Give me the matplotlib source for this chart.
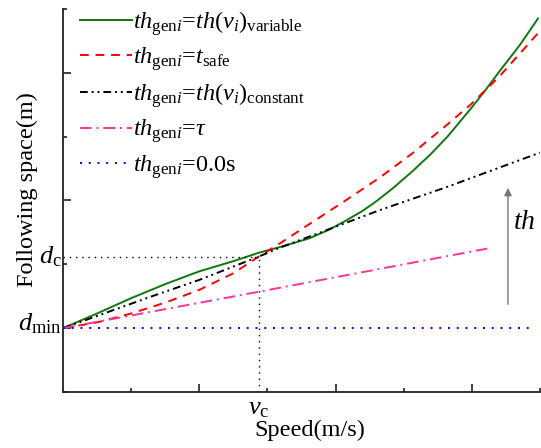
import matplotlib
matplotlib.use("Agg")
import matplotlib.pyplot as plt
import matplotlib.transforms as mtransforms

plt.rcParams['font.family'] = ['Liberation Serif', 'DejaVu Serif']
plt.rcParams['mathtext.fontset'] = 'custom'
plt.rcParams['mathtext.rm'] = 'Liberation Serif'
plt.rcParams['mathtext.it'] = 'Liberation Serif:italic'
plt.rcParams['mathtext.bf'] = 'Liberation Serif:bold'

# ---- data ----
d_min = 1.0
d_c = 2.12
v_c = 2.87

x_var = [0, 0.5, 1.0, 1.5, 2.0, 2.5, 2.87, 3.25, 3.62, 3.9, 4.16, 4.4, 4.6, 4.85, 5.13, 5.4,
         5.65, 6.0, 6.2, 6.41, 6.7, 6.97]
y_var = [1.0, 1.23, 1.47, 1.69, 1.89, 2.05, 2.18, 2.29, 2.41, 2.54, 2.69, 2.84, 2.99, 3.20, 3.46, 3.73,
         4.01, 4.46, 4.73, 5.03, 5.43, 5.85]

x_safe = [0, 0.5, 1.0, 1.5, 2.0, 2.5, 2.87, 3.2, 3.6, 4.16, 4.65, 5.14, 5.65, 6.0, 6.41, 6.97]
y_safe = [1.0, 1.09, 1.23, 1.40, 1.60, 1.86, 2.12, 2.34, 2.62, 3.01, 3.36, 3.75, 4.20, 4.52, 4.95, 5.62]

x_const = [0, 1.28, 2.01, 2.87, 3.18, 4.65, 5.63, 7.0]
y_const = [1.0, 1.49, 1.76, 2.12, 2.26, 2.85, 3.21, 3.75]

x_tau = [0, 2.87, 6.29]
y_tau = [1.0, 1.57, 2.26]

x_zero = [0, 6.85]
y_zero = [1.0, 1.0]

arrow_x = 6.53
arrow_y0, arrow_y1 = 1.33, 3.24

labels = [r'$th_{\mathrm{gen}i}$=$th(v_i)_{\mathrm{variable}}$',
          r'$th_{\mathrm{gen}i}$=$t_{\mathrm{safe}}$',
          r'$th_{\mathrm{gen}i}$=$th(v_i)_{\mathrm{constant}}$',
          r'$th_{\mathrm{gen}i}$=$\tau$',
          r'$th_{\mathrm{gen}i}$=0.0s']

fig = plt.figure(figsize=(5.41, 4.48), dpi=100)
ax = fig.add_axes([63/541, 1-392/448, (540-63)/541, (392-9)/448])

lw = 1.4
ax.plot(x_var, y_var, color='#117711', lw=lw, label=labels[0])
ax.plot(x_safe, y_safe, color='#ff0000', lw=lw, dashes=(4.5, 3.5), label=labels[1])
ax.plot(x_const, y_const, color='black', lw=lw, dashes=(4, 2, 1, 2, 1, 2), label=labels[2])
ax.plot(x_tau, y_tau, color='#ff3399', lw=lw, dashes=(6, 2.5, 1, 2.5), label=labels[3])
ax.plot(x_zero, y_zero, color='#0000ff', lw=lw, dashes=(1, 3.5), label=labels[4])

# reference dotted lines
ax.plot([0, v_c], [d_c, d_c], color='black', lw=1.0, dashes=(1, 3.5))
ax.plot([v_c, v_c], [0, d_c], color='black', lw=1.0, dashes=(1, 3.5))

ax.annotate('', xy=(arrow_x, arrow_y1), xytext=(arrow_x, arrow_y0),
            arrowprops=dict(arrowstyle='-|>', color='#777777', lw=1.0, mutation_scale=11))
ax.text(6.6, 2.65, r'$th$', fontsize=20, ha='left', va='center')

ax.set_xlim(0, 7)
ax.set_ylim(0, 6)

for s in ['top', 'right']:
    ax.spines[s].set_visible(False)
for s in ['left', 'bottom']:
    ax.spines[s].set_linewidth(1.3)
    ax.spines[s].set_color('#222222')

ax.set_xticks([2, 4, 6])
ax.set_xticks([1, 3, 5, 7], minor=True)
ax.set_xticklabels([])
ax.set_yticks([1, 3, 5])
ax.set_yticks([0, 2, 4, 6], minor=True)
ax.set_yticklabels([])
ax.tick_params(which='major', direction='in', length=6, width=1.2, pad=1, color='#222222')
ax.tick_params(which='minor', direction='in', length=3, width=1.2, pad=1, color='#222222')

# y labels for d_min and d_c
trans = mtransforms.blended_transform_factory(ax.transAxes, ax.transData)
ax.text(-0.002, 0.97, r'$d_{\mathrm{min}}$', fontsize=19, ha='right', va='baseline', transform=trans)
ax.text(-0.002, 2.02, r'$d_{\mathrm{c}}$', fontsize=19, ha='right', va='baseline', transform=trans)

ax.text(v_c, -0.27, r'$v_{\mathrm{c}}$', fontsize=19, ha='center', va='center')

ax.set_xlabel('Speed(m/s)', fontsize=17.5)
ax.xaxis.set_label_coords((310-63)/477, -(430-392)/383, transform=ax.transAxes)
ax.xaxis.label.set_va('center')
ax.set_ylabel('Following space(m)', fontsize=17.5)
ax.yaxis.set_label_coords(-(63-27)/477, (392-190)/383, transform=ax.transAxes)
ax.yaxis.label.set_va('center')

leg = ax.legend(loc='upper left', frameon=False, fontsize=17.5, handlelength=2.15,
                handletextpad=0.05, labelspacing=0.32, borderaxespad=0.3,
                bbox_to_anchor=(0.0, 1.045))

fig.savefig('out.png', dpi=100)
